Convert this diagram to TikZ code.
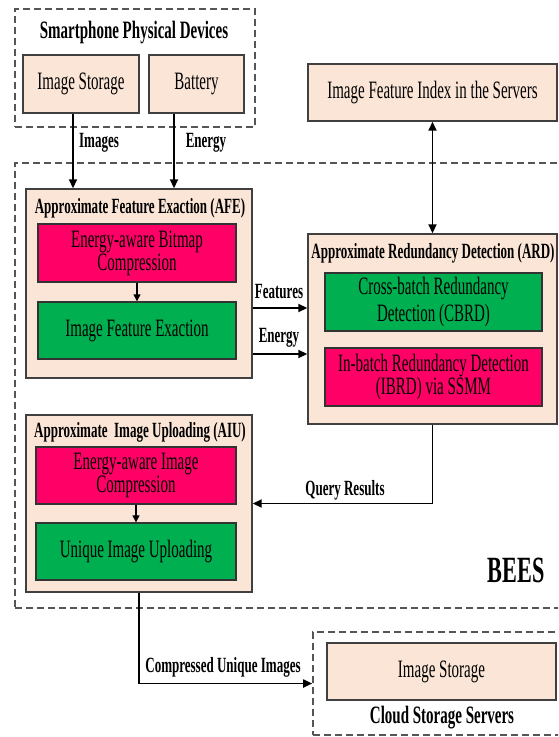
\documentclass[tikz,border=0pt]{standalone}
\usepackage{fontspec}
\setmainfont[FakeStretch=0.6]{Liberation Serif}
\usepackage{xcolor}
\usepackage{tikz}
\usetikzlibrary{arrows.meta, positioning}
\definecolor{beespeach}{HTML}{FBE5D6}
\definecolor{beespink}{HTML}{FF0066}
\definecolor{beesgreen}{HTML}{00B050}
\definecolor{beesdash}{HTML}{555555}
\tikzset{
  groupbox/.style={draw=beesdash, line width=1.6pt, dash pattern=on 7pt off 4pt},
  devbox/.style={draw=black!75, fill=beespeach, line width=1.4pt, align=center, font=\fontsize{25}{24}\selectfont},
  modbox/.style={draw=black!75, fill=beespeach, line width=1.4pt},
  pinkbox/.style={draw=black!80, fill=beespink, line width=1.4pt, align=center, font=\fontsize{25}{23}\selectfont},
  greenbox/.style={draw=black!80, fill=beesgreen, line width=1.4pt, align=center, font=\fontsize{25}{23}\selectfont},
  modtitle/.style={font=\bfseries\fontsize{21.7}{21.7}\selectfont, inner sep=0pt},
  grouptitle/.style={font=\bfseries\fontsize{25}{25}\selectfont, inner sep=0pt},
  flowlabel/.style={font=\bfseries\fontsize{21.7}{21.7}\selectfont, inner sep=0pt},
  flow/.style={-{Triangle[length=9pt, width=8pt]}, line width=1.8pt},
  twoflow/.style={{Triangle[length=9pt, width=8pt]}-{Triangle[length=9pt, width=8pt]}, line width=1.8pt},
  stepflow/.style={-{Triangle[length=7pt, width=7pt]}, line width=1.4pt}
}

\begin{document}
\begin{tikzpicture}[x=1pt, y=-1pt]
  \useasboundingbox (0,0) rectangle (558,737);
  \clip (0,0) rectangle (558,737);

  % dashed groups
  \node[groupbox, minimum width=240pt, minimum height=118pt] at (135,68) (phone) {};
  \node[groupbox, minimum width=560pt, minimum height=445pt] at (295,385.5) (bees) {};
  \node[groupbox, minimum width=262pt, minimum height=103pt] at (444,683.5) (cloud) {};

  % smartphone devices
  \node[grouptitle] at (134,33) (phonetitle) {Smartphone Physical Devices};
  \node[devbox, minimum width=116pt, minimum height=58pt] at (81,84) (imgstore) {Image Storage};
  \node[devbox, minimum width=95pt, minimum height=58pt] at (196.5,84) (battery) {Battery};

  % server index
  \node[devbox, minimum width=249pt, minimum height=57pt] at (432.5,92.5) (index)
    {Image Feature Index in the Servers};

  % AFE
  \node[modbox, minimum width=226pt, minimum height=189pt] at (139,283.5) (afe) {};
  \node[modtitle] at (140,208) (afetitle) {Approximate Feature Exaction (AFE)};
  \node[pinkbox, minimum width=198pt, minimum height=58pt] at (137,253) (bitmap)
    {Energy-aware Bitmap\\Compression};
  \node[greenbox, minimum width=198pt, minimum height=57pt] at (137,330.5) (featex)
    {Image Feature Exaction};

  % ARD
  \node[modbox, minimum width=249pt, minimum height=190pt] at (432.5,329) (ard) {};
  \node[modtitle] at (433,253) (ardtitle) {Approximate Redundancy Detection (ARD)};
  \node[greenbox, font=\fontsize{25}{27}\selectfont, minimum width=217pt, minimum height=58pt]
    at (433.5,302) (cbrd) {Cross-batch Redundancy\\Detection (CBRD)};
  \node[pinkbox, minimum width=217pt, minimum height=58pt] at (433.5,377) (ibrd)
    {In-batch Redundancy Detection\\(IBRD) via SSMM};

  % AIU
  \node[modbox, minimum width=226pt, minimum height=177pt] at (139,503.5) (aiu) {};
  \node[modtitle] at (140,432) (aiutitle) {Approximate\ \ Image Uploading (AIU)};
  \node[pinkbox, minimum width=200pt, minimum height=57pt] at (136,475.5) (imgcomp)
    {Energy-aware Image\\Compression};
  \node[greenbox, minimum width=200pt, minimum height=57pt] at (136,551.5) (unique)
    {Unique Image Uploading};

  \node[font=\bfseries\fontsize{37}{37}\selectfont, inner sep=0pt] at (516,570) (beeslabel) {BEES};

  % cloud
  \node[devbox, minimum width=229pt, minimum height=57pt] at (441.5,671.5) (cloudstore) {Image Storage};
  \node[grouptitle] at (442,718) (cloudtitle) {Cloud Storage Servers};

  % flows
  \draw[flow] ([xshift=-8pt]imgstore.south) -- ([xshift=-8pt]imgstore.south |- afe.north);
  \node[flowlabel] at (99,143) (imageslabel) {Images};
  \draw[flow] ([xshift=-22.5pt]battery.south) -- ([xshift=-22.5pt]battery.south |- afe.north);
  \node[flowlabel] at (206,143) (energylabel) {Energy};

  \draw[stepflow] (bitmap.south) -- (featex.north);
  \draw[stepflow] (imgcomp.south) -- (unique.north);

  \draw[flow] ([yshift=-24.5pt]afe.east) -- ([yshift=-24.5pt]afe.east -| ard.west);
  \node[flowlabel] at (279,292) (featlabel) {Features};
  \draw[flow] ([yshift=-70.5pt]afe.east) -- ([yshift=-70.5pt]afe.east -| ard.west);
  \node[flowlabel] at (279,338) (energylabel2) {Energy};

  \draw[twoflow] (index.south) -- (ard.north);
  \draw[flow] (ard.south) |- (aiu.east);
  \node[flowlabel] at (345,490) (querylabel) {Query Results};

  \draw[flow] (aiu.south) |- (cloud.west);
  \node[flowlabel] at (223,667) (uploadlabel) {Compressed Unique Images};
\end{tikzpicture}
\end{document}
